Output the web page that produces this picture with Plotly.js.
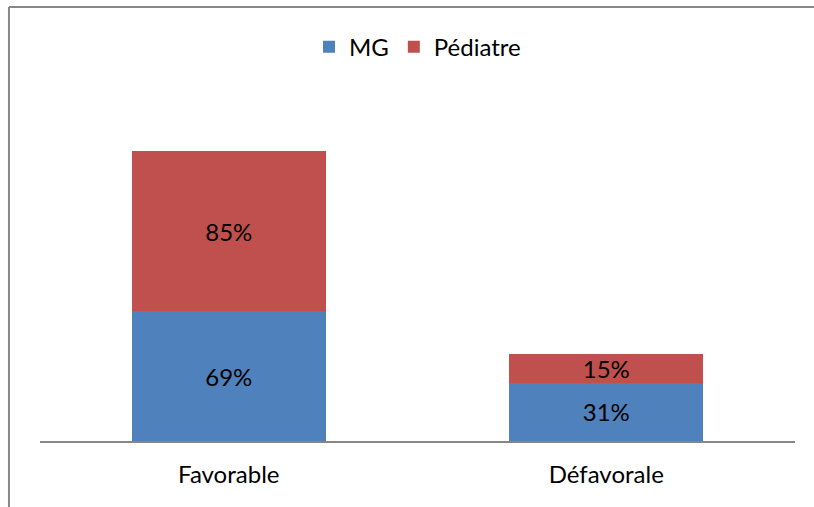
<!DOCTYPE html>
<html><head><meta charset="utf-8">
<script src="https://cdn.plot.ly/plotly-3.0.1.min.js"></script>
<style>html,body{margin:0;padding:0;background:#fff;}</style>
</head><body>
<div id="chart" style="width:814px;height:507px;"></div>
<script>
var categories = ["Favorable", "Défavorale"];
var mgValues = [69, 31];
var pediatreValues = [85, 15];
var seriesNames = ["MG", "Pédiatre"];

var fontFamily = "Lato, 'Open Sans', sans-serif";
var traceMG = {
  type: 'bar', x: categories, y: mgValues, name: seriesNames[0],
  marker: {color: '#4F81BD'},
  texttemplate: '%{y}%', textposition: 'inside', insidetextanchor: 'middle',
  textfont: {color: '#000', size: 24, family: fontFamily},
  constraintext: 'none', hoverinfo: 'skip'
};
var tracePed = {
  type: 'bar', x: categories, y: pediatreValues, name: seriesNames[1],
  marker: {color: '#C0504D'},
  texttemplate: '%{y}%', textposition: 'inside', insidetextanchor: 'middle',
  textfont: {color: '#000', size: 24, family: fontFamily},
  constraintext: 'none', hoverinfo: 'skip'
};
var layout = {
  width: 814, height: 507,
  margin: {l: 40, r: 19, t: 102, b: 66},
  barmode: 'stack', bargap: 0.486,
  paper_bgcolor: '#fff', plot_bgcolor: '#fff',
  font: {family: fontFamily, size: 24, color: '#000'},
  showlegend: true,
  legend: {orientation: 'h', x: 0.5, xanchor: 'center', y: 1.162, yanchor: 'middle',
           font: {size: 24, family: fontFamily, color: '#000'}, traceorder: 'normal',
           itemwidth: 30},
  xaxis: {showline: true, linecolor: '#868686', linewidth: 1.5, ticks: '',
          showgrid: false, zeroline: false, ticklabelstandoff: 12,
          tickfont: {size: 24, family: fontFamily, color: '#000'}},
  yaxis: {range: [0, 180], visible: false, showgrid: false, zeroline: false},
  shapes: [
    {type: 'line', xref: 'paper', yref: 'paper', x0: -0.0411, x1: -0.0411, y0: -0.5, y1: 1.280,
     line: {color: '#888888', width: 2}},
    {type: 'line', xref: 'paper', yref: 'paper', x0: -0.0411, x1: 1.2, y0: 1.280, y1: 1.280,
     line: {color: '#888888', width: 2}}
  ]
};
Plotly.newPlot('chart', [traceMG, tracePed], layout, {displayModeBar: false, staticPlot: true});
</script>
</body></html>
